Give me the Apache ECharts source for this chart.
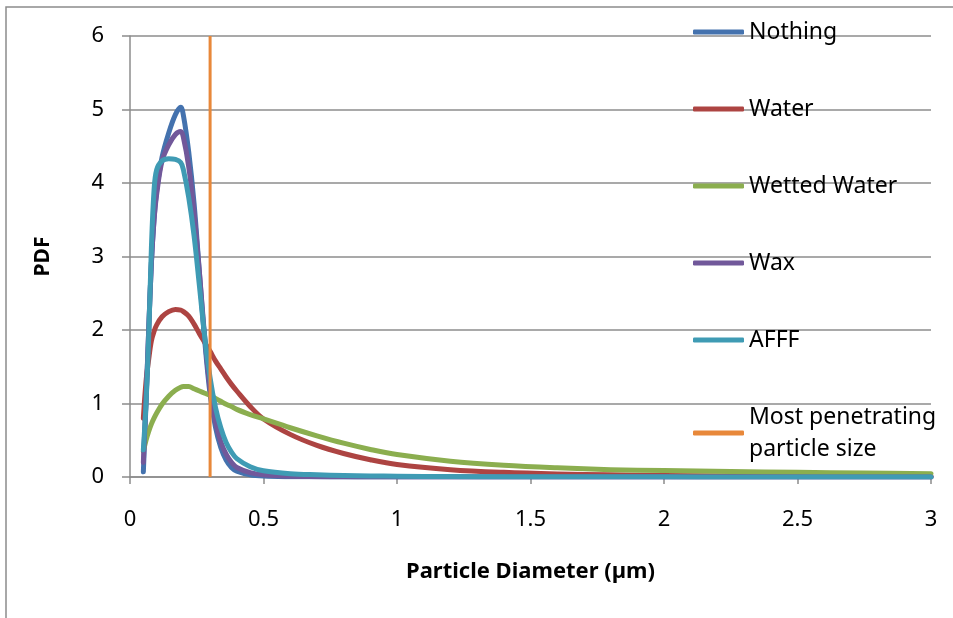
<!DOCTYPE html>
<html>
<head>
<meta charset="utf-8">
<script src="https://cdn.jsdelivr.net/npm/echarts@6/dist/echarts.min.js"></script>
<style>
  html, body { margin: 0; padding: 0; background: #fff; }
  #chart { width: 953px; height: 618px; }
</style>
</head>
<body>
<div id="chart"></div>
<script>
// particle diameter (µm) sample points shared by the five PDF curves
const diameters = [0.05, 0.06, 0.07, 0.08, 0.09, 0.1, 0.12, 0.145, 0.17, 0.19, 0.2, 0.22, 0.24, 0.26, 0.28,
  0.3, 0.32, 0.34, 0.36, 0.38, 0.4, 0.45, 0.5, 0.6, 0.7, 0.8, 0.9, 1.0, 1.2, 1.4, 1.6, 1.8, 2.0, 2.25, 2.5, 2.75, 3.0];

const nothing = [0.07, 1.0, 2.0, 2.9, 3.5, 3.9, 4.35, 4.68, 4.93, 5.03, 4.92, 4.42, 3.72, 2.78, 1.85,
  1.12, 0.68, 0.4, 0.23, 0.13, 0.08, 0.03, 0.012, 0.004, 0.002, 0.001, 0.001, 0, 0, 0, 0, 0, 0, 0, 0, 0, 0];
const water = [0.8, 1.3, 1.6, 1.85, 1.98, 2.07, 2.18, 2.25, 2.28, 2.27, 2.25, 2.19, 2.08, 1.95, 1.83,
  1.71, 1.58, 1.47, 1.36, 1.26, 1.17, 0.96, 0.79, 0.58, 0.43, 0.32, 0.235, 0.17, 0.1, 0.063, 0.042, 0.03, 0.02, 0.015, 0.01, 0.008, 0.006];
const wettedWater = [0.35, 0.5, 0.62, 0.72, 0.8, 0.87, 0.99, 1.1, 1.18, 1.22, 1.23, 1.23, 1.2, 1.17, 1.14,
  1.11, 1.07, 1.03, 0.99, 0.96, 0.92, 0.85, 0.79, 0.67, 0.56, 0.46, 0.375, 0.305, 0.215, 0.16, 0.125, 0.1, 0.088, 0.075, 0.063, 0.053, 0.045];
const wax = [0.2, 1.05, 2.0, 2.9, 3.5, 3.85, 4.3, 4.52, 4.66, 4.7, 4.62, 4.22, 3.6, 2.78, 1.9,
  1.2, 0.75, 0.48, 0.31, 0.2, 0.13, 0.06, 0.03, 0.01, 0.005, 0.002, 0.001, 0.001, 0, 0, 0, 0, 0, 0, 0, 0, 0];
const afff = [0.37, 1.0, 1.9, 3.1, 3.9, 4.18, 4.3, 4.33, 4.32, 4.28, 4.18, 3.8, 3.28, 2.6, 1.9,
  1.35, 0.95, 0.67, 0.47, 0.34, 0.25, 0.14, 0.085, 0.045, 0.03, 0.02, 0.015, 0.01, 0.006, 0.004, 0.003, 0.002, 0.002, 0.001, 0.001, 0.001, 0.001];

// vertical marker at the most penetrating particle size
const mppsX = [0.3, 0.3];
const mppsY = [0, 6];

const names = ['Nothing', 'Water', 'Wetted Water', 'Wax', 'AFFF', 'Most penetrating\nparticle size'];
const colors = ['#4472AE', '#AD4442', '#8BAE4F', '#71589A', '#3F9BB4', '#E8883A'];
const curves = [nothing, water, wettedWater, wax, afff];

const font = '"Noto Sans", "Open Sans", sans-serif';
const axisGray = '#8c8c8c';

const chart = echarts.init(document.getElementById('chart'));

const series = curves.map((vals, i) => ({
  name: names[i],
  type: 'line',
  data: diameters.map((d, k) => [d, vals[k]]),
  showSymbol: false,
  symbol: 'none',
  smooth: 0.35,
  color: colors[i],
  lineStyle: { width: 5, color: colors[i], cap: 'round', join: 'round' },
  z: 2 + i
}));
series.push({
  name: names[5],
  type: 'line',
  data: mppsX.map((x, k) => [x, mppsY[k]]),
  showSymbol: false,
  symbol: 'none',
  color: colors[5],
  lineStyle: { width: 3, color: colors[5] },
  z: 8
});

chart.setOption({
  animation: false,
  textStyle: { fontFamily: font },
  graphic: [{
    type: 'rect',
    shape: { x: 6, y: 7, width: 1000, height: 700 },
    style: { fill: 'none', stroke: '#8c8c8c', lineWidth: 1.5 },
    silent: true
  }],
  grid: { left: 130, right: 22, top: 36, bottom: 141 },
  legend: {
    orient: 'vertical',
    left: 693,
    top: 16,
    padding: 0,
    icon: 'roundRect',
    itemWidth: 51,
    itemHeight: 5,
    itemGap: 45,
    textStyle: { fontFamily: font, fontSize: 23, color: '#000', lineHeight: 32 },
    data: names
  },
  xAxis: {
    type: 'value',
    min: 0,
    max: 3,
    interval: 0.5,
    name: 'Particle Diameter (µm)',
    nameLocation: 'middle',
    nameGap: 84,
    nameTextStyle: { fontFamily: font, fontSize: 22, fontWeight: 'bold', color: '#000' },
    axisLine: { show: true, onZero: false, lineStyle: { color: axisGray, width: 1.5 } },
    axisTick: { show: true, inside: false, length: 7, lineStyle: { color: axisGray, width: 1.5 } },
    axisLabel: { margin: 32, fontFamily: font, fontSize: 22, color: '#000' },
    splitLine: { show: false }
  },
  yAxis: {
    type: 'value',
    min: 0,
    max: 6,
    interval: 1,
    name: 'PDF',
    nameLocation: 'middle',
    nameRotate: 90,
    nameGap: 76,
    nameTextStyle: { fontFamily: font, fontSize: 21, fontWeight: 'bold', color: '#000' },
    axisLine: { show: true, lineStyle: { color: axisGray, width: 1.5 } },
    axisTick: { show: true, inside: false, length: 8, lineStyle: { color: axisGray, width: 1.5 } },
    axisLabel: { margin: 26, fontFamily: font, fontSize: 22, color: '#000' },
    splitLine: { show: true, lineStyle: { color: axisGray, width: 1.5 } }
  },
  series: series
});
</script>
</body>
</html>
